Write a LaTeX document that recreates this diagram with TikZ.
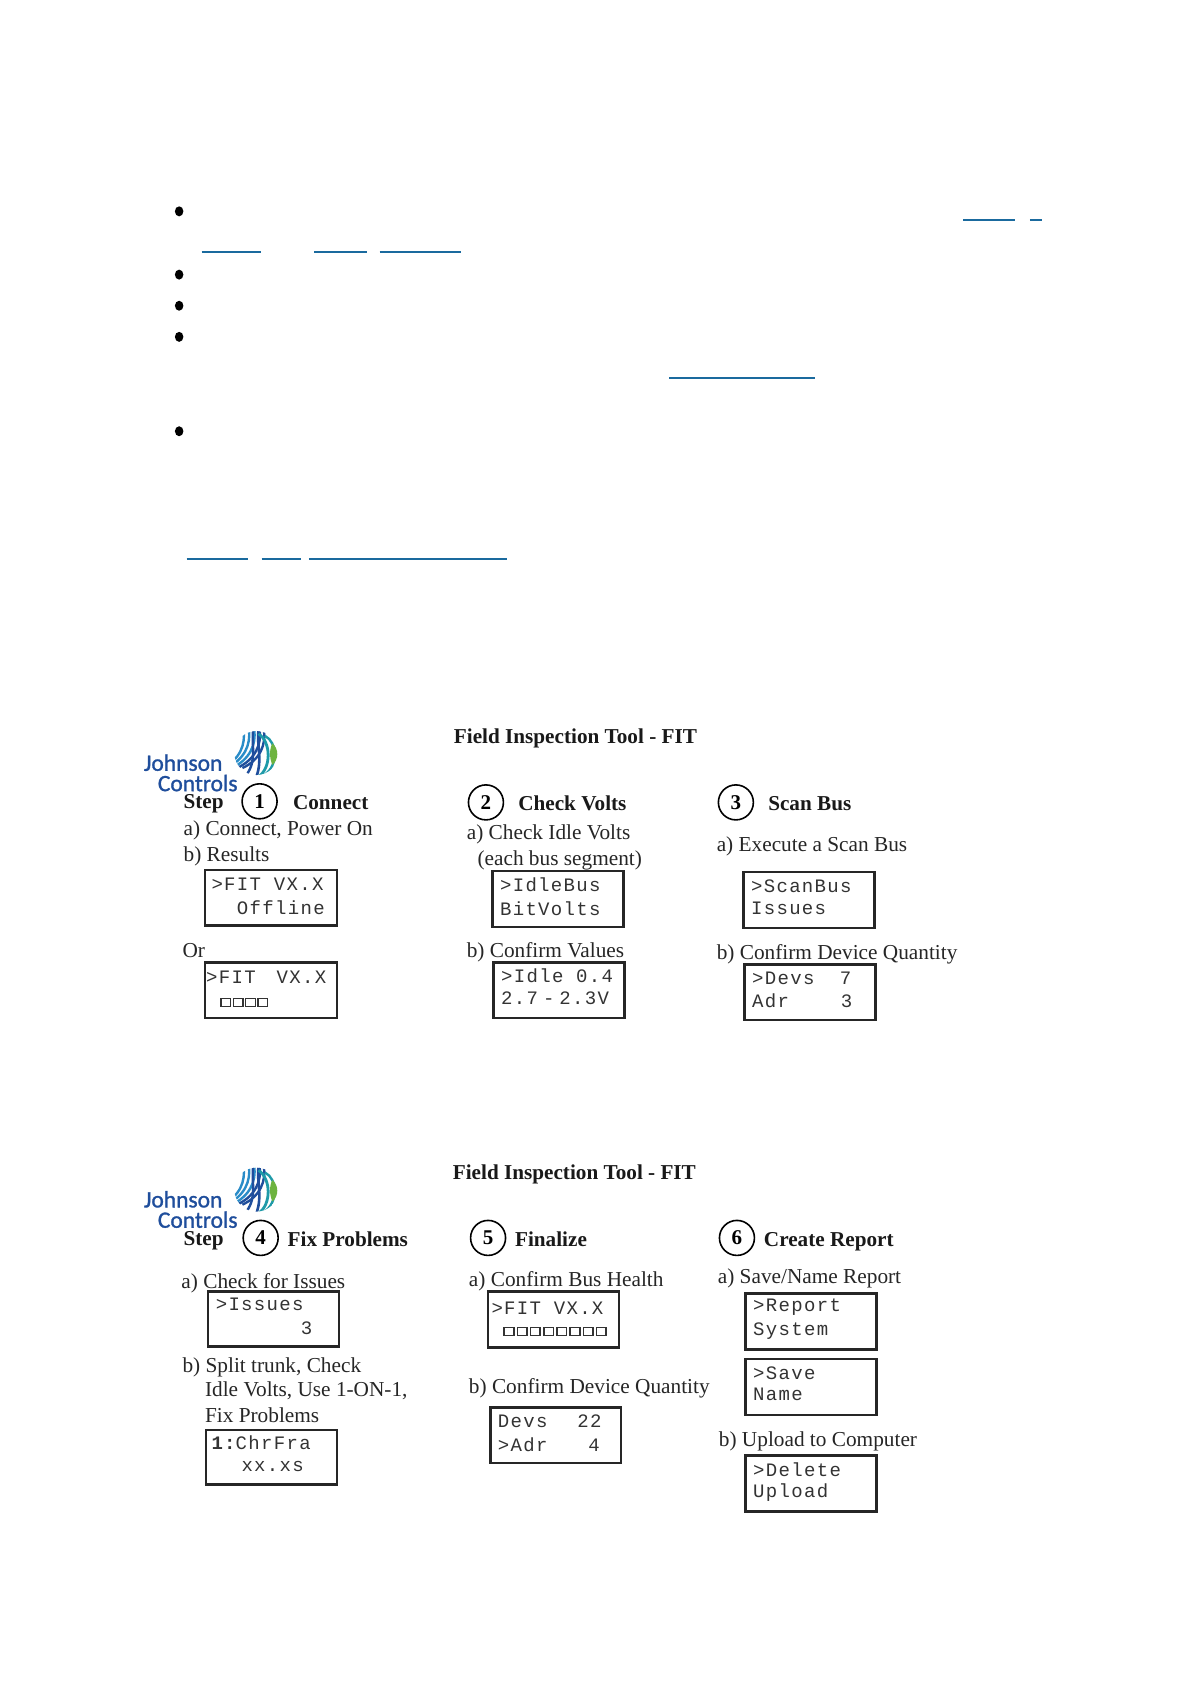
\documentclass[tikz,border=0pt]{standalone}
\usepackage{fontspec}
\setmainfont{Liberation Serif}
\newfontfamily\lcdfont[LetterSpace=7]{Liberation Mono}
\newfontfamily\logofont[FakeBold=1.2]{Carlito}
\definecolor{linkblue}{HTML}{1A6A9E}
\definecolor{logoblue}{HTML}{1F4E9C}
\definecolor{logocyan}{HTML}{2A8CC8}
\definecolor{logoteal}{HTML}{1E9AA8}
\definecolor{logogreen}{HTML}{6DB33F}
\tikzset{
  x=1.073pt,y=-1.073pt,
  lcdbox/.style={draw=black!85,line width=2.6pt,fill=white},
  lcdtext/.style={anchor=west,inner sep=0pt,font=\lcdfont\fontsize{19}{19}\selectfont,text=black!80},
  stepnum/.style={circle,draw=black,line width=1.6pt,minimum size=35pt,inner sep=0pt,font=\bfseries\fontsize{21}{21}\selectfont},
  body/.style={anchor=west,inner sep=0pt,text height=15pt,text depth=4.8pt,font=\fontsize{21.3}{22}\selectfont,text=black!85},
  head/.style={anchor=west,inner sep=0pt,text height=15pt,text depth=4.6pt,font=\bfseries\fontsize{21.2}{22}\selectfont,text=black!90},
  linkline/.style={draw=linkblue,line width=2pt},
  dot/.style={ellipse,fill=black,minimum width=8.5pt,minimum height=10pt,inner sep=0pt},
  logotext/.style={anchor=west,inner sep=0pt,text=logoblue,font=\logofont\fontsize{23.5}{24}\selectfont},
}
\usetikzlibrary{shapes.geometric}
\newcommand{\logomark}[2]{%
  \begin{scope}[shift={(#1,#2)}]
    \begin{scope}
      \clip (0,0) circle [radius=20.5];
      \foreach \tx/\lx/\c in {-4/-24/logocyan,1/-20/logocyan,6/-15/logocyan,11/-10/logoblue,15/-5/logoblue}{
        \draw[\c,line width=2.4pt] (\tx-8,-22) .. controls (\tx-6,-8) and (\lx+9,6) .. (\lx-8,14);
      }
      \draw[logoblue,line width=2.6pt] (2,-22) .. controls (0,-8) and (6,6) .. (0,22);
      \draw[logoblue,line width=2.4pt] (-3,-22) .. controls (-5,-8) and (1,6) .. (-9,20);
      \draw[logoteal,line width=2.8pt] (2,22) .. controls (14,14) and (14,-10) .. (2,-18);
      \draw[logoteal,line width=2.4pt] (8,20) .. controls (20,12) and (20,-10) .. (8,-16);
    \end{scope}
    \fill[logogreen] (15,-9) .. controls (21,-4) and (21,6) .. (15,11) .. controls (12,5) and (12,-4) .. (15,-9) -- cycle;
  \end{scope}}
\begin{document}
\begin{tikzpicture}
\useasboundingbox[fill=white] (0,0) rectangle (1109,1568);
% bullets
\foreach \n/\yy in {a/197,b/256,c/285,d/314,e/402}{\node[dot] (bul\n) at (167,\yy) {};}
% link underlines
\foreach \xa/\xb/\yy in {898/946/205,960/971/205,188/243/235,293/342/235,354/430/235,624/760/352,174/231/521,244/281/521,288/473/521}{
  \draw[linkline] (\xa,\yy) -- (\xb,\yy);}
% first panel
\node[head] (title1) at (423,688) {Field Inspection Tool - FIT};
\logomark{239}{702}
\node[logotext] (jc1) at (134,711) {Johnson};
\node[logotext] (cc1) at (147,730) {Controls};
\node[head] (stepa) at (171,749) {Step};
\node[stepnum] (n1) at (242,747) {1};
\node[head] (h1) at (273,750) {Connect};
\node[body] (t1a) at (171,774) {a) Connect, Power On};
\node[body] (t1b) at (171,798) {b) Results};
\node[body] (t1c) at (170,888) {Or};
\node[stepnum] (n2) at (453,748) {2};
\node[head] (h2) at (483,751) {Check Volts};
\node[body] (t2a) at (435,778) {a) Check Idle Volts};
\node[body] (t2b) at (445,802) {(each bus segment)};
\node[body] (t2c) at (435,888) {b) Confirm Values};
\node[stepnum] (n3) at (686,748) {3};
\node[head] (h3) at (716,751) {Scan Bus};
\node[body] (t3a) at (668,789) {a) Execute a Scan Bus};
\node[body] (t3b) at (668,890) {b) Confirm Device Quantity};
% second panel
\node[head] (title2) at (422,1095) {Field Inspection Tool - FIT};
\logomark{239}{1109}
\node[logotext] (jc2) at (134,1118) {Johnson};
\node[logotext] (cc2) at (147,1137) {Controls};
\node[head] (stepb) at (171,1156) {Step};
\node[stepnum] (n4) at (243,1154) {4};
\node[head] (h4) at (268,1157) {Fix Problems};
\node[body] (t4a) at (169,1196) {a) Check for Issues};
\node[body] (t4b) at (170,1275) {b) Split trunk, Check};
\node[body] (t4c) at (191,1297) {Idle Volts, Use 1-ON-1,};
\node[body] (t4d) at (191,1321) {Fix Problems};
\node[stepnum] (n5) at (455,1154) {5};
\node[head] (h5) at (480,1157) {Finalize};
\node[body] (t5a) at (437,1195) {a) Confirm Bus Health};
\node[body] (t5b) at (437,1294) {b) Confirm Device Quantity};
\node[stepnum] (n6) at (687,1154) {6};
\node[head] (h6) at (712,1157) {Create Report};
\node[body] (t6a) at (669,1192) {a) Save/Name Report};
\node[body] (t6b) at (670,1344) {b) Upload to Computer};
% LCD boxes
\foreach \nm/\xa/\ya/\xb/\yb/\tx/\ua/\ub/\la/\lb in {
  b1/191/811/314/863/197/824/846/{>FIT VX.X}/{\ \ Offline},
  b2/191/897/314/949/192/911/935/{>FIT\hspace{21pt}VX.X}/{},
  b3/459/812/581/864/466/825/847/{>IdleBus}/{BitVolts},
  b4/460/897/582/949/467/910/931/{>Idle 0.4}/{2.7\hspace{5pt}-\hspace{5pt}2.3V},
  b5/693/813/815/865/700/826/847/{>ScanBus}/{Issues},
  b6/694/899/816/951/701/912/933/{>Devs \ 7}/{Adr\hspace{52pt}3},
  b7/194/1204/316/1255/201/1216/1238/{>Issues}/{\hspace{85pt}3},
  b8/192/1333/314/1384/197/1345/1367/{{\bfseries 1:}ChrFra}/{\hspace{30pt}xx.xs},
  b9/455/1204/577/1256/458/1220/1241/{>FIT VX.X}/{},
  b10/457/1312/579/1364/464/1325/1347/{Devs\hspace{30pt}22}/{>Adr\hspace{41pt}4},
  b11/695/1206/817/1258/702/1219/1241/{>Report}/{System},
  b12/695/1267/817/1319/702/1280/1300/{>Save}/{Name},
  b13/695/1357/817/1409/702/1370/1391/{>Delete}/{Upload}}{
  \draw[lcdbox] (\xa,\ya) rectangle (\xb,\yb);
  \node[lcdtext] (\nm u) at (\tx,\ua) {\la};
  \node[lcdtext] (\nm l) at (\tx,\ub) {\lb};
}
\foreach \i in {0,...,3}{\draw[black!80,line width=1.5pt] (206+\i*11.5,931) rectangle ++(9,7.5);}
\foreach \i in {0,...,7}{\draw[black!80,line width=1.5pt] (470+\i*12.3,1237.5) rectangle ++(9,7.5);}
\end{tikzpicture}
\end{document}
